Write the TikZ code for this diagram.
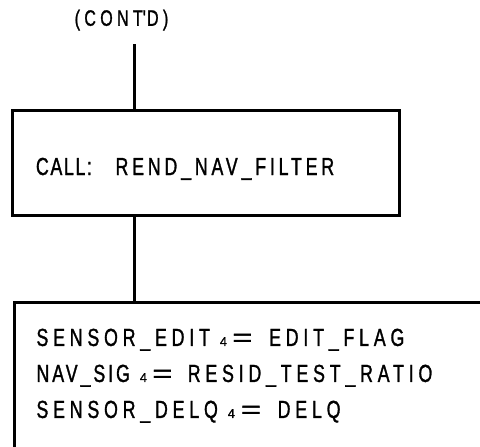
\documentclass[tikz,border=0pt]{standalone}
\usepackage{fontspec}
\usepackage{graphicx}
\setmainfont{Liberation Sans}
\newfontfamily\callfont[FakeStretch=0.72,LetterSpace=15.5,FakeBold=1.2]{Liberation Sans}
\newfontfamily\assignfont[FakeStretch=0.72,LetterSpace=19.5,FakeBold=1.2]{Liberation Sans}
\newfontfamily\plainfont[FakeBold=1.2]{Liberation Sans}
\usetikzlibrary{positioning,calc}
\newcommand{\subidx}[1]{{\plainfont\fontsize{9.5}{12}\selectfont #1}}
\newcommand{\eqsign}{{\plainfont\scalebox{1.4}[1]{=}}}
\tikzset{
  flowbox/.style={rectangle,draw=black,line width=2.25pt,align=left},
  flowline/.style={line width=2.25pt,draw=black},
}

\begin{document}
\begin{tikzpicture}[
  x=0.75pt,y=-0.75pt,
  contlbl/.style={font=\assignfont\fontsize{16.7}{20}\selectfont,inner sep=0pt},
]
  \useasboundingbox (0,0) rectangle (480,447);
  \clip (0,0) rectangle (480,447);

  \node[contlbl] (contd) at (121.5,20) {(CONT\textquotesingle D)};
  \coordinate (contend) at (135,44);

  \node[flowbox,text width=255.75pt,inner xsep=17.25pt,
    text height=18.75pt,text depth=0pt,
    minimum height=78.75pt,font=\callfont\fontsize{18.5}{21}\selectfont]
    (call) at (206.5,162.5)
    {{\addfontfeature{LetterSpace=6.7}CALL:}\hspace{17.7pt}REND\_NAV\_FILTER};

  \node[flowbox,anchor=north west,text width=450pt,inner xsep=16.5pt,
    minimum height=109.9pt,font=\assignfont\fontsize{18.5}{27}\selectfont]
    (assign) at (13,301) {%
    SENSOR\_EDIT\kern7.5pt\subidx{4}\kern4pt\eqsign\kern12.5pt EDIT\_FLAG\\
    {\addfontfeature{LetterSpace=12}NAV\_SIG}\kern7.5pt\subidx{4}\kern4pt\eqsign\kern11.5pt RESID\_TEST\_RATIO\\
    SENSOR\_DELQ\kern7.5pt\subidx{4}\kern4.5pt\eqsign\kern12.5pt DELQ};

  \draw[flowline] (contend) -- (contend |- call.north);
  \draw[flowline] (call.south -| contend) -- (contend |- assign.north);
\end{tikzpicture}
\end{document}
